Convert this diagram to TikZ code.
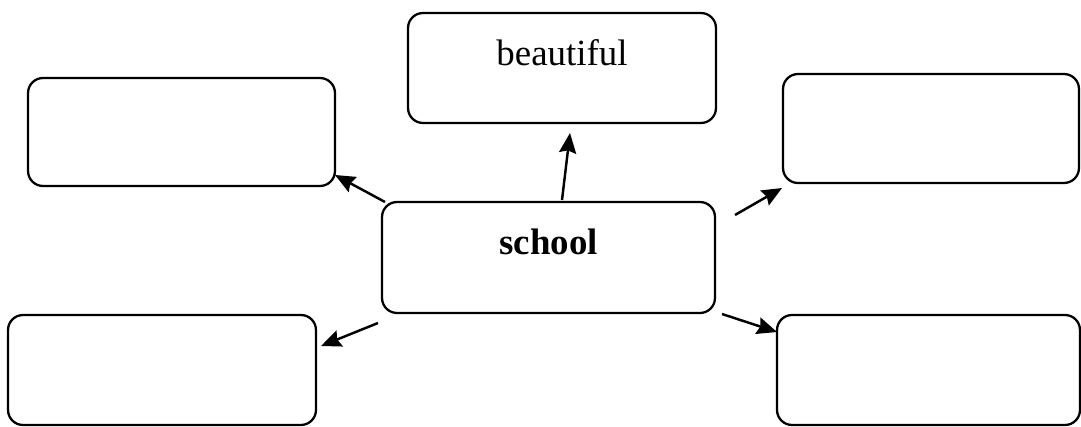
\documentclass[tikz,border=0pt]{standalone}
\usepackage{fontspec}
\setmainfont{Liberation Serif}
\usetikzlibrary{arrows.meta}

\begin{document}
\begin{tikzpicture}[x=0.02cm, y=-0.02cm,
    box/.style={draw, rounded corners=0.3cm, line width=1.3pt, inner sep=0pt,
                minimum width=6.16cm, minimum height=2.2cm,
                font=\fontsize{21}{24}\selectfont, text height=0.52cm, text depth=0.64cm},
    link/.style={line width=1.4pt, -{Stealth[length=0.4cm, width=0.34cm, inset=0.05cm]}}
]
\useasboundingbox (0,0) rectangle (1081,426);

% ============ BOXES ============
\node[box] (school) at (548.5,257.5) [minimum width=6.66cm, minimum height=2.22cm] {\textbf{school}};
\node[box] (beautiful) at (562,68) {beautiful};
\node[box] (topleft) at (181.5,132) [minimum width=6.14cm, minimum height=2.16cm] {};
\node[box] (topright) at (931,128.5) [minimum width=5.92cm, minimum height=2.18cm] {};
\node[box] (botleft) at (162,370) {};
\node[box] (botright) at (928.5,370) [minimum width=6.06cm] {};

% ============ ARROW ENDS ============
\coordinate (fromTL) at (385,202);  \coordinate (toTL) at (335,175);
\coordinate (fromB)  at (562,200);  \coordinate (toB)  at (570,133);
\coordinate (fromTR) at (735,215);  \coordinate (toTR) at (782,188);
\coordinate (fromBL) at (378,323);  \coordinate (toBL) at (321,346);
\coordinate (fromBR) at (722,314);  \coordinate (toBR) at (777,332);

% ============ ARROWS ============
\draw[link] (fromTL) -- (toTL);
\draw[link] (fromB)  -- (toB);
\draw[link] (fromTR) -- (toTR);
\draw[link] (fromBL) -- (toBL);
\draw[link] (fromBR) -- (toBR);

\end{tikzpicture}
\end{document}
